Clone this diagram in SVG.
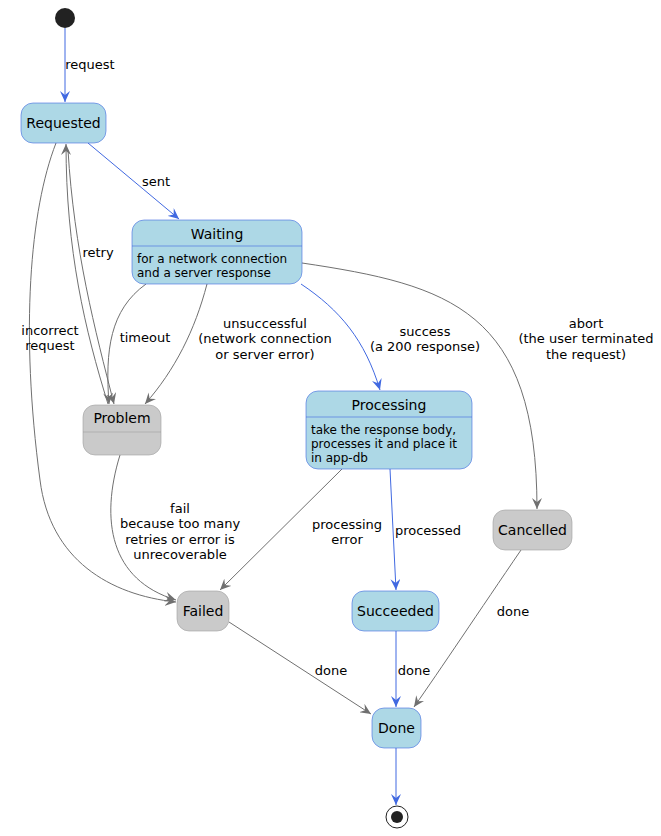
<svg xmlns="http://www.w3.org/2000/svg" width="661" height="836" viewBox="0 0 661 836">
<style>
text{font-family:"DejaVu Sans",sans-serif;fill:#000}
.t{font-size:14px;text-anchor:middle}
.d{font-size:12px}
.l{font-size:13px;text-anchor:middle}
.b{fill:#ADD8E6;stroke:#4169E1;stroke-width:0.6}
.g{fill:#CACACA;stroke:#A0A0A0;stroke-width:0.6}
.cb{fill:none;stroke:#4169E1;stroke-width:1}
.cg{fill:none;stroke:#707070;stroke-width:1}
</style>
<defs>
<marker id="ab" viewBox="0 0 12 10" refX="11" refY="5" markerWidth="12" markerHeight="10" markerUnits="userSpaceOnUse" orient="auto"><path d="M0,0L11,5L0,10L4,5Z" fill="#4169E1"/></marker>
<marker id="ag" viewBox="0 0 12 10" refX="11" refY="5" markerWidth="12" markerHeight="10" markerUnits="userSpaceOnUse" orient="auto"><path d="M0,0L11,5L0,10L4,5Z" fill="#707070"/></marker>
</defs>
<g id="connectors">
<path class="cb" d="M65,28L65,102" marker-end="url(#ab)"/><text class="l" x="90" y="69">request</text>
<path class="cb" d="M88,143L179,219" marker-end="url(#ab)"/><text class="l" x="156" y="186">sent</text>
<path class="cg" d="M56,143C30,210 20,330 40,480C50,560 110,595 176,602" marker-end="url(#ag)"/><text class="l" x="50" y="335">incorrect</text><text class="l" x="50" y="350">request</text>
<path class="cg" d="M108,404C85,330 66,250 66,144" marker-end="url(#ag)"/>
<path class="cg" d="M68,150C74,250 95,330 114,404" marker-end="url(#ag)"/><text class="l" x="98" y="257">retry</text>
<path class="cg" d="M146,284C110,310 105,350 109,404" marker-end="url(#ag)"/><text class="l" x="145" y="342">timeout</text>
<path class="cg" d="M207,284C195,330 175,370 145,404" marker-end="url(#ag)"/><text class="l" x="265" y="328">unsuccessful</text><text class="l" x="265" y="343">(network connection</text><text class="l" x="265" y="359">or server error)</text>
<path class="cb" d="M301,284C340,310 365,340 380,390" marker-end="url(#ab)"/><text class="l" x="425" y="336">success</text><text class="l" x="425" y="351">(a 200 response)</text>
<path class="cg" d="M302,263C450,285 537,310 537,509" marker-end="url(#ag)"/><text class="l" x="586" y="328">abort</text><text class="l" x="586" y="343">(the user terminated</text><text class="l" x="586" y="359">the request)</text>
<path class="cg" d="M120,455C100,520 110,580 176,600" marker-end="url(#ag)"/><text class="l" x="180" y="513">fail</text><text class="l" x="180" y="528">because too many</text><text class="l" x="180" y="544">retries or error is</text><text class="l" x="180" y="559">unrecoverable</text>
<path class="cg" d="M342,469L220,590" marker-end="url(#ag)"/><text class="l" x="347" y="529">processing</text><text class="l" x="347" y="544">error</text>
<path class="cb" d="M390,469L396,590" marker-end="url(#ab)"/><text class="l" x="428" y="535">processed</text>
<path class="cg" d="M521,550C480,610 440,670 414,707" marker-end="url(#ag)"/><text class="l" x="513" y="616">done</text>
<path class="cg" d="M229,622L371,714" marker-end="url(#ag)"/><text class="l" x="331" y="675">done</text>
<path class="cb" d="M396,631L396,707" marker-end="url(#ab)"/><text class="l" x="414" y="675">done</text>
<path class="cb" d="M396,748L396,805" marker-end="url(#ab)"/>
</g>
<g id="start"><circle cx="65" cy="18" r="10" fill="#222"/></g>
<g id="Requested"><rect class="b" x="21" y="103" width="85" height="40" rx="12"/><text class="t" x="63.5" y="128">Requested</text></g>
<g id="Waiting"><rect class="b" x="132" y="220" width="170" height="64" rx="12"/><line x1="132" y1="246" x2="302" y2="246" stroke="#4169E1" stroke-width="0.6"/><text class="t" x="217" y="239">Waiting</text><text class="d" x="137" y="263">for a network connection</text><text class="d" x="137" y="277">and a server response</text></g>
<g id="Problem"><rect class="g" x="83" y="405" width="78" height="50" rx="12"/><line x1="83" y1="432" x2="161" y2="432" stroke="#A0A0A0" stroke-width="0.6"/><text class="t" x="122" y="423">Problem</text></g>
<g id="Processing"><rect class="b" x="306" y="391" width="166" height="78" rx="12"/><line x1="306" y1="417" x2="472" y2="417" stroke="#4169E1" stroke-width="0.6"/><text class="t" x="389" y="410">Processing</text><text class="d" x="311" y="434">take the response body,</text><text class="d" x="311" y="448">processes it and place it</text><text class="d" x="311" y="462">in app-db</text></g>
<g id="Cancelled"><rect class="g" x="493" y="510" width="79" height="40" rx="12"/><text class="t" x="532.5" y="535">Cancelled</text></g>
<g id="Failed"><rect class="g" x="177" y="591" width="52" height="40" rx="12"/><text class="t" x="203" y="616">Failed</text></g>
<g id="Succeeded"><rect class="b" x="352" y="591" width="87" height="40" rx="12"/><text class="t" x="395.5" y="616">Succeeded</text></g>
<g id="Done"><rect class="b" x="372" y="708" width="49" height="40" rx="12"/><text class="t" x="396.5" y="733">Done</text></g>
<g id="end"><circle cx="397" cy="817" r="11" fill="none" stroke="#222" stroke-width="1"/><circle cx="397" cy="817" r="6" fill="#222"/></g>
</svg>
